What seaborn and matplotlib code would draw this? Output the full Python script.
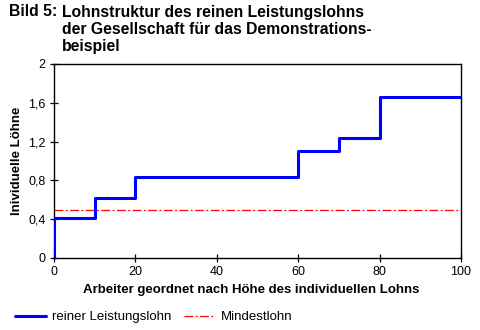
import matplotlib
matplotlib.use("Agg")
import matplotlib.pyplot as plt
import seaborn as sns
import pandas as pd
from matplotlib.ticker import FuncFormatter

sns.set_style("white")
plt.rcParams['font.family'] = ['Liberation Sans', 'DejaVu Sans']
plt.rcParams['text.color'] = 'black'
plt.rcParams['axes.labelcolor'] = 'black'

# Data
worker_pos = [0, 0, 10, 20, 60, 70, 80, 100]
wage = [0, 0.41, 0.62, 0.835, 1.10, 1.24, 1.66, 1.66]
min_x = [0, 100]
min_wage = [0.5, 0.5]
x_ticks = [0, 20, 40, 60, 80, 100]
y_ticks = [0, 0.4, 0.8, 1.2, 1.6, 2]

df = pd.DataFrame({"x": worker_pos, "y": wage})
dm = pd.DataFrame({"x": min_x, "y": min_wage})

fig = plt.figure(figsize=(4.81, 3.30), dpi=100)
ax = fig.add_axes([54/481, 1-258/330, (461-54)/481, (258-64)/330])

sns.lineplot(data=dm, x="x", y="y", ax=ax, color="#ff0000", lw=0.9,
             estimator=None, sort=False, label="Mindestlohn", zorder=2)
ax.lines[-1].set_dashes([7, 2, 1.5, 2])
sns.lineplot(data=df, x="x", y="y", ax=ax, color="#0000ff", lw=2.2,
             estimator=None, sort=False, drawstyle="steps-post",
             label="reiner Leistungslohn", zorder=3)

ax.set_xlim(0, 100)
ax.set_ylim(0, 2)
ax.set_xticks(x_ticks)
ax.set_yticks(y_ticks)
ax.yaxis.set_major_formatter(FuncFormatter(lambda v, p: ("%g" % v).replace(".", ",")))
ax.tick_params(bottom=True, left=True, top=False, right=False,
               direction="inout", length=6, width=0.9, labelsize=9, colors="black", pad=3)
for s in ax.spines.values():
    s.set_color("black")
    s.set_linewidth(1.0)
    s.set_visible(True)

ax.set_xlabel("Arbeiter geordnet nach Höhe des individuellen Lohns", fontsize=9.5,
              fontweight="bold", color="black")
ax.xaxis.set_label_coords((251-54)/407, -0.135)
ax.set_ylabel("Inividuelle Löhne", fontsize=9.5, fontweight="bold", labelpad=4, color="black")

handles, labels = ax.get_legend_handles_labels()
order = [1, 0]
leg = ax.legend([handles[i] for i in order], [labels[i] for i in order],
                loc="lower left", bbox_to_anchor=(8/481, 0.0), bbox_transform=fig.transFigure,
                ncol=2, frameon=False, fontsize=9.5, handlelength=2.35, handletextpad=0.45,
                columnspacing=1.0, borderaxespad=0.1)
for t in leg.get_texts():
    t.set_color("black")

tfs = 11.3
fig.text(9/481, 1-12/330, "Bild 5:", fontsize=tfs, fontweight="bold", va="center", ha="left",
         color="black")
for i, line in enumerate(["Lohnstruktur des reinen Leistungslohns",
                          "der Gesellschaft für das Demonstrations-",
                          "beispiel"]):
    fig.text(62/481, 1-(12+17*i)/330, line, fontsize=tfs, fontweight="bold",
             va="center", ha="left", color="black")

fig.savefig("out.png", dpi=100)
